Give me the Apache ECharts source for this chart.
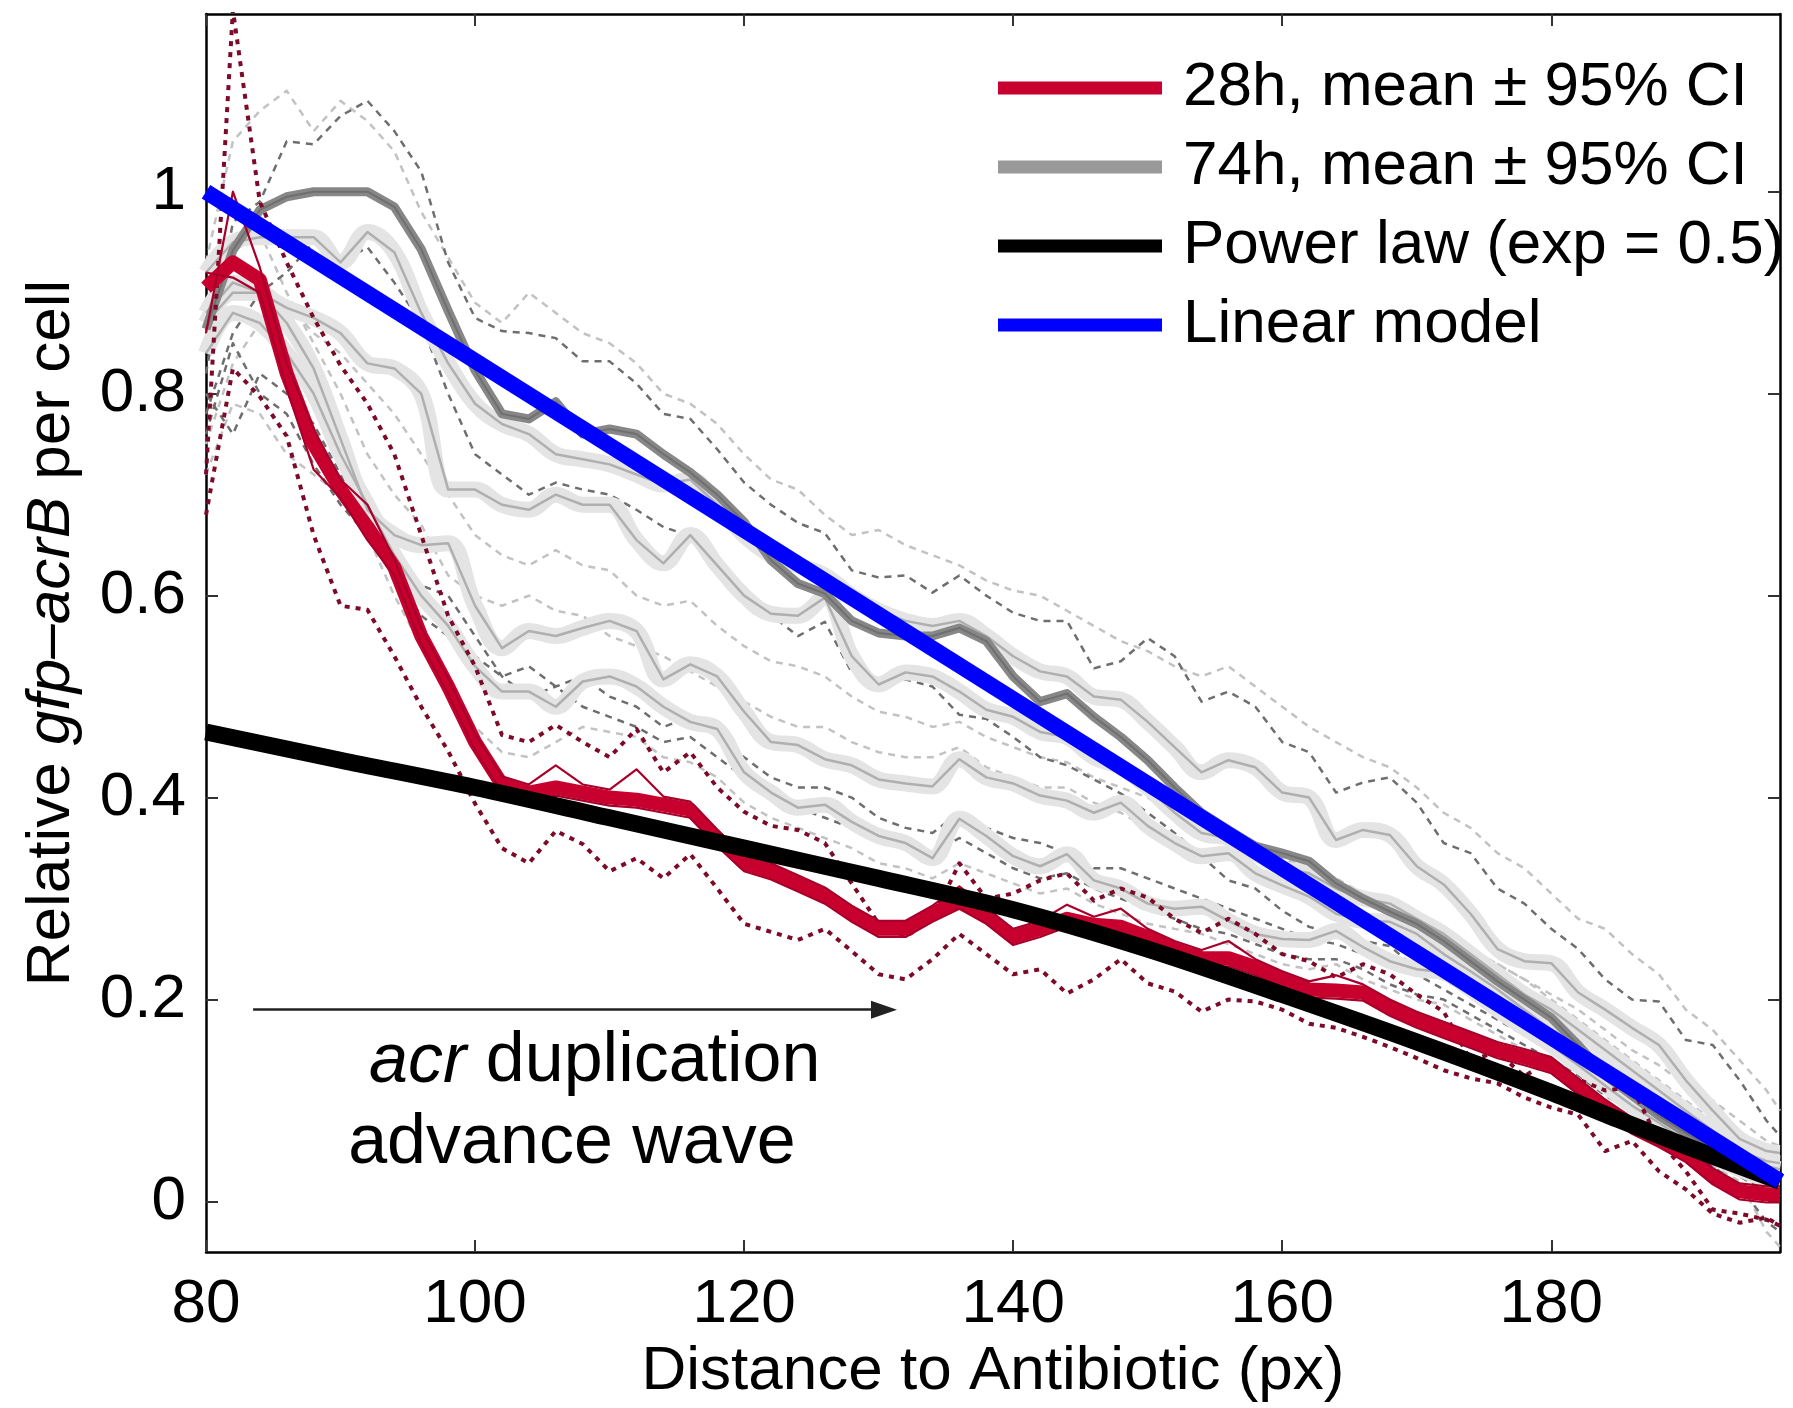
<!DOCTYPE html>
<html>
<head>
<meta charset="utf-8">
<script src="https://cdn.jsdelivr.net/npm/echarts@6/dist/echarts.min.js"></script>
<style>
  html, body { margin: 0; padding: 0; background: #fff; }
  #chart { width: 1793px; height: 1408px; }
</style>
</head>
<body>
<div id="chart"></div>
<script>
// Sampling positions along the distance axis (px)
const xs = [80,82,84,86,88,90,92,94,96,98,100,102,104,106,108,110,112,114,116,118,
            120,122,124,126,128,130,132,134,136,138,140,142,144,146,148,150,152,154,156,158,
            160,162,164,166,168,170,172,174,176,178,180,182,184,186,188,190,192,194,196,197];

// 28h: mean and 95% CI bounds
const red28Mean = [0.905,0.93,0.913,0.82,0.75,0.705,0.668,0.628,0.56,0.51,
  0.455,0.413,0.405,0.41,0.405,0.40,0.398,0.393,0.388,0.36,
  0.335,0.327,0.315,0.303,0.285,0.27,0.27,0.285,0.298,0.283,
  0.262,0.27,0.28,0.274,0.272,0.262,0.25,0.241,0.241,0.232,
  0.22,0.21,0.209,0.207,0.192,0.18,0.17,0.16,0.15,0.143,
  0.135,0.114,0.093,0.075,0.062,0.047,0.025,0.01,0.007,0.007];
const red28Hi = [0.86,1.0,0.925,0.83,0.765,0.715,0.69,0.636,0.568,0.518,
  0.463,0.421,0.413,0.432,0.413,0.408,0.428,0.401,0.396,0.368,
  0.343,0.335,0.323,0.311,0.293,0.278,0.278,0.293,0.312,0.291,
  0.27,0.278,0.294,0.282,0.29,0.27,0.258,0.249,0.258,0.24,
  0.228,0.218,0.224,0.215,0.2,0.188,0.178,0.168,0.158,0.151,
  0.143,0.122,0.101,0.083,0.072,0.055,0.033,0.018,0.015,0.015];
const red28Lo = [0.92,0.915,0.9,0.805,0.725,0.697,0.655,0.62,0.552,0.502,
  0.447,0.405,0.397,0.402,0.397,0.392,0.39,0.385,0.38,0.352,
  0.327,0.319,0.307,0.295,0.277,0.262,0.262,0.277,0.29,0.275,
  0.254,0.262,0.272,0.266,0.264,0.254,0.242,0.233,0.233,0.224,
  0.212,0.202,0.201,0.199,0.184,0.172,0.162,0.152,0.142,0.135,
  0.127,0.106,0.085,0.067,0.054,0.039,0.017,0.002,-0.001,-0.001];
// 28h: individual replicates
const red28RepA = [0.72,1.18,0.99,0.93,0.875,0.828,0.79,0.74,0.66,0.58,
  0.53,0.462,0.455,0.472,0.455,0.44,0.468,0.425,0.445,0.41,
  0.386,0.372,0.368,0.355,0.315,0.275,0.262,0.28,0.335,0.30,
  0.305,0.318,0.325,0.298,0.31,0.301,0.28,0.266,0.28,0.265,
  0.245,0.238,0.222,0.235,0.225,0.205,0.188,0.14,0.148,0.124,
  0.141,0.121,0.11,0.113,0.06,0.03,-0.008,-0.012,-0.018,-0.024];
const red28RepB = [0.68,0.825,0.797,0.758,0.66,0.59,0.586,0.54,0.49,0.446,
  0.394,0.35,0.335,0.367,0.354,0.327,0.34,0.32,0.344,0.31,
  0.275,0.267,0.259,0.27,0.248,0.225,0.22,0.24,0.265,0.245,
  0.225,0.23,0.206,0.22,0.24,0.216,0.208,0.188,0.2,0.198,
  0.19,0.176,0.172,0.163,0.153,0.142,0.13,0.122,0.117,0.103,
  0.093,0.086,0.05,0.06,0.03,0.012,-0.012,-0.021,-0.016,-0.024];

// 74h: highlighted mean
const gray74Mean = [0.864,0.942,0.982,0.995,1.0,1.0,1.0,0.985,0.943,0.882,
  0.823,0.78,0.775,0.792,0.76,0.765,0.76,0.74,0.722,0.7,
  0.673,0.635,0.612,0.602,0.575,0.563,0.56,0.56,0.568,0.555,
  0.52,0.495,0.503,0.48,0.46,0.437,0.41,0.385,0.368,0.352,
  0.345,0.337,0.315,0.3,0.287,0.275,0.258,0.238,0.218,0.2,
  0.182,0.155,0.125,0.105,0.085,0.068,0.052,0.036,0.025,0.022];
// 74h: other position means
const grayMeanA = [0.92,0.95,0.955,0.955,0.955,0.93,0.96,0.94,0.88,0.83,
  0.79,0.77,0.76,0.74,0.735,0.73,0.72,0.71,0.715,0.69,
  0.66,0.64,0.63,0.62,0.6,0.585,0.575,0.57,0.575,0.56,
  0.54,0.525,0.52,0.5,0.497,0.475,0.45,0.425,0.437,0.43,
  0.405,0.4,0.358,0.368,0.363,0.332,0.314,0.285,0.25,0.238,
  0.236,0.207,0.19,0.172,0.155,0.12,0.09,0.062,0.05,0.048];
const grayMeanB = [0.88,0.91,0.9,0.885,0.875,0.86,0.83,0.825,0.8,0.705,
  0.705,0.69,0.685,0.7,0.69,0.69,0.655,0.632,0.66,0.63,
  0.6,0.582,0.58,0.598,0.54,0.512,0.524,0.52,0.505,0.487,
  0.48,0.465,0.46,0.44,0.43,0.41,0.385,0.365,0.36,0.345,
  0.33,0.325,0.31,0.3,0.295,0.28,0.265,0.245,0.225,0.205,
  0.19,0.17,0.15,0.13,0.11,0.09,0.07,0.05,0.04,0.038];
const grayMeanC = [0.87,0.9,0.9,0.87,0.825,0.755,0.685,0.66,0.65,0.652,
  0.59,0.548,0.565,0.56,0.568,0.575,0.565,0.517,0.532,0.52,
  0.485,0.455,0.452,0.438,0.432,0.418,0.414,0.411,0.438,0.42,
  0.414,0.402,0.397,0.385,0.395,0.372,0.355,0.342,0.345,0.325,
  0.313,0.302,0.285,0.278,0.277,0.265,0.245,0.228,0.21,0.19,
  0.17,0.15,0.13,0.11,0.09,0.075,0.06,0.045,0.035,0.032];
const grayMeanD = [0.84,0.88,0.87,0.84,0.80,0.74,0.69,0.64,0.60,0.57,
  0.53,0.505,0.505,0.49,0.515,0.52,0.51,0.49,0.475,0.468,
  0.425,0.405,0.39,0.393,0.376,0.362,0.355,0.34,0.379,0.362,
  0.342,0.332,0.344,0.318,0.31,0.295,0.29,0.292,0.278,0.265,
  0.26,0.259,0.268,0.252,0.238,0.23,0.227,0.21,0.19,0.172,
  0.155,0.135,0.115,0.095,0.078,0.06,0.045,0.032,0.022,0.02];

// 74h: individual replicates (dark and light dashes)
const grayRepDark1 = [0.82,0.97,0.99,1.05,1.047,1.075,1.09,1.06,1.02,0.93,
  0.875,0.862,0.86,0.855,0.832,0.832,0.81,0.78,0.775,0.745,
  0.712,0.69,0.672,0.662,0.625,0.618,0.62,0.603,0.62,0.6,
  0.583,0.575,0.575,0.528,0.535,0.558,0.54,0.495,0.505,0.49,
  0.455,0.445,0.405,0.415,0.42,0.395,0.355,0.345,0.31,0.295,
  0.27,0.25,0.22,0.2,0.198,0.16,0.155,0.12,0.08,0.065];
const grayRepDark2 = [0.78,0.86,0.9,0.92,0.95,0.93,0.945,0.91,0.87,0.8,
  0.74,0.72,0.7,0.712,0.705,0.70,0.685,0.668,0.659,0.634,
  0.609,0.581,0.56,0.574,0.524,0.513,0.517,0.51,0.482,0.478,
  0.46,0.44,0.432,0.418,0.404,0.385,0.365,0.342,0.318,0.31,
  0.288,0.272,0.265,0.258,0.253,0.23,0.22,0.205,0.19,0.175,
  0.16,0.14,0.12,0.1,0.08,0.06,0.04,0.025,0.01,0.005];
const grayRepDark3 = [0.8,0.76,0.82,0.8,0.77,0.72,0.66,0.63,0.61,0.6,
  0.56,0.52,0.5,0.51,0.52,0.5,0.49,0.47,0.48,0.46,
  0.44,0.42,0.41,0.41,0.4,0.38,0.37,0.365,0.385,0.37,
  0.36,0.355,0.345,0.33,0.33,0.32,0.31,0.3,0.29,0.28,
  0.27,0.26,0.255,0.245,0.24,0.225,0.21,0.195,0.18,0.165,
  0.148,0.13,0.11,0.09,0.07,0.05,0.035,0.015,-0.02,-0.03];
const grayRepDark4 = [0.76,0.85,0.8,0.78,0.73,0.69,0.66,0.62,0.58,0.56,
  0.54,0.52,0.53,0.51,0.49,0.48,0.47,0.455,0.46,0.44,
  0.42,0.41,0.39,0.38,0.37,0.355,0.35,0.345,0.36,0.345,
  0.33,0.32,0.325,0.31,0.3,0.29,0.28,0.27,0.265,0.255,
  0.245,0.24,0.24,0.23,0.215,0.205,0.2,0.185,0.17,0.155,
  0.14,0.125,0.105,0.09,0.07,0.055,0.04,0.025,0.01,0.005];
const grayRepLight1 = [0.93,1.05,1.08,1.1,1.06,1.09,1.07,1.04,0.98,0.935,
  0.89,0.87,0.9,0.88,0.86,0.85,0.83,0.8,0.79,0.77,
  0.74,0.715,0.705,0.68,0.66,0.665,0.65,0.64,0.63,0.615,
  0.605,0.6,0.585,0.57,0.555,0.545,0.53,0.52,0.53,0.51,
  0.49,0.47,0.455,0.44,0.43,0.41,0.385,0.37,0.345,0.33,
  0.305,0.28,0.27,0.245,0.225,0.19,0.17,0.14,0.11,0.09];
const grayRepLight2 = [0.75,0.83,0.87,0.89,0.86,0.84,0.81,0.78,0.74,0.70,
  0.66,0.64,0.63,0.645,0.63,0.625,0.6,0.59,0.595,0.57,
  0.55,0.535,0.53,0.52,0.5,0.485,0.48,0.47,0.475,0.46,
  0.45,0.44,0.435,0.42,0.41,0.4,0.385,0.37,0.365,0.35,
  0.34,0.33,0.32,0.305,0.3,0.285,0.27,0.25,0.235,0.22,
  0.2,0.18,0.16,0.14,0.12,0.1,0.08,0.06,0.045,0.04];
const grayRepLight3 = [0.72,0.79,0.78,0.74,0.72,0.7,0.66,0.6,0.55,0.5,
  0.47,0.445,0.44,0.455,0.47,0.465,0.46,0.44,0.435,0.42,
  0.395,0.38,0.37,0.36,0.35,0.335,0.33,0.32,0.335,0.325,
  0.315,0.305,0.31,0.295,0.285,0.275,0.27,0.265,0.255,0.245,
  0.235,0.23,0.235,0.22,0.21,0.2,0.195,0.18,0.165,0.15,
  0.135,0.12,0.1,0.082,0.065,0.05,0.035,0.02,-0.03,-0.045];
const grayRepLight4 = [0.86,0.94,0.96,0.9,0.85,0.8,0.74,0.7,0.67,0.62,
  0.6,0.59,0.6,0.585,0.58,0.56,0.55,0.54,0.525,0.51,
  0.495,0.48,0.47,0.47,0.455,0.445,0.44,0.44,0.45,0.43,
  0.42,0.41,0.41,0.395,0.385,0.37,0.355,0.345,0.34,0.33,
  0.32,0.31,0.3,0.295,0.29,0.28,0.265,0.25,0.235,0.22,
  0.205,0.19,0.17,0.15,0.135,0.115,0.1,0.08,0.06,0.055];

// Model fits
const powerX = [80,90,100,110,120,130,140,150,160,170,180,185,190,197];
const powerY = [0.465,0.437,0.41,0.38,0.35,0.32,0.289,0.25,0.205,0.158,0.108,0.081,0.055,0.02];
const linearX = [80,197];
const linearY = [1.0,0.02];

// Axis ticks
const xTicks = [80,100,120,140,160,180];
const yTicks = [0,0.2,0.4,0.6,0.8,1];

// Annotation: advance-wave arrow and its caption (data coordinates)
const arrowFrom = [83.5, 0.19];
const arrowTo = [130.4, 0.19];
const captionLine1 = [108.9, 0.138];
const captionLine2 = [107.2, 0.057];

const FONT = "'Liberation Sans', Arial, Helvetica, sans-serif";
const NAME_28 = '28h, mean \u00B1 95% CI';
const NAME_74 = '74h, mean \u00B1 95% CI';
const NAME_POW = 'Power law (exp = 0.5)';
const NAME_LIN = 'Linear model';
const RED = '#c8002e';

function pts(ys) { return xs.map((x, i) => [x, ys[i]]); }
function zipXY(a, b) { return a.map((x, i) => [x, b[i]]); }

const series = [];
function line(data, color, width, z, opts) {
  opts = opts || {};
  series.push(Object.assign({
    type: 'line',
    data: data,
    symbol: 'none',
    silent: true,
    animation: false,
    z: z,
    color: color,
    lineStyle: { color: color, width: width, type: opts.dash || 'solid', cap: 'butt', join: 'round' },
    smooth: opts.smooth || false
  }, opts.name ? { name: opts.name } : {}));
}

// dashed replicates
[grayRepLight1, grayRepLight2, grayRepLight3, grayRepLight4].forEach(r =>
  line(pts(r), '#c2c2c2', 2.5, 1, { dash: [7, 6] }));
[grayRepDark1, grayRepDark2, grayRepDark3, grayRepDark4].forEach(r =>
  line(pts(r), '#6e6e6e', 2.5, 2, { dash: [7, 6] }));

// shaded CI bands around the 74h position means, then the means
[grayMeanA, grayMeanB, grayMeanC, grayMeanD].forEach(m =>
  line(pts(m), '#e4e4e4', 16, 3, { smooth: 0.4 }));
[grayMeanA, grayMeanB, grayMeanC, grayMeanD].forEach(m =>
  line(pts(m), '#afafaf', 2.5, 4));

// highlighted 74h mean
line(pts(gray74Mean), '#878787', 9, 5, { name: NAME_74 });
line(pts(gray74Mean), '#6f6f6f', 2, 5);

// 28h replicates (dotted)
line(pts(red28RepA), '#7d0a28', 4, 6, { dash: [5, 6] });
line(pts(red28RepB), '#7d0a28', 4, 6, { dash: [5, 6] });

// 28h mean band with its CI bounds
line(pts(red28Mean), RED, 14, 7, { name: NAME_28 });
line(pts(red28Hi), '#a8002a', 2.2, 8);
line(pts(red28Lo), '#a8002a', 2.2, 8);

// fits
line(zipXY(powerX, powerY), '#000000', 17, 9, { name: NAME_POW, smooth: 0.3 });
line(zipXY(linearX, linearY), '#0000ff', 16, 10, { name: NAME_LIN });

// arrow
series.push({
  type: 'line', data: [], symbol: 'none', silent: true, animation: false, z: 11,
  markLine: {
    silent: true, animation: false,
    symbol: ['none', 'triangle'], symbolSize: [18, 26],
    lineStyle: { color: '#222', width: 2.5, type: 'solid' },
    label: { show: false },
    data: [[{ coord: arrowFrom }, { coord: arrowTo }]]
  }
});

// caption
series.push({
  type: 'scatter', silent: true, animation: false, z: 11, symbolSize: 1,
  itemStyle: { color: 'rgba(0,0,0,0)', opacity: 1 },
  data: [
    { value: captionLine1, label: { formatter: '{i|acr} duplication' } },
    { value: captionLine2, label: { formatter: 'advance wave' } }
  ],
  label: {
    show: true, position: 'inside', color: '#000', opacity: 1, fontSize: 70, fontFamily: FONT,
    rich: { i: { fontStyle: 'italic', fontSize: 70, fontFamily: FONT, color: '#000' } }
  },
  emphasis: { disabled: true }
});

const axisLineStyle = { color: '#000', width: 2.5 };
const tickStyle = { color: '#333', width: 2 };

const option = {
  backgroundColor: '#fff',
  animation: false,
  grid: { left: 206, right: 13, top: 14, bottom: 156, containLabel: false },
  legend: {
    orient: 'vertical', left: 993, top: 52, itemGap: 17,
    itemWidth: 164, itemHeight: 13, selectedMode: false,
    textStyle: { fontSize: 62, fontFamily: FONT, color: '#000', padding: [0, 0, 0, 16] },
    data: [
      { name: NAME_28, icon: 'rect', itemStyle: { color: RED } },
      { name: NAME_74, icon: 'rect', itemStyle: { color: '#999999' } },
      { name: NAME_POW, icon: 'rect', itemStyle: { color: '#000000' } },
      { name: NAME_LIN, icon: 'rect', itemStyle: { color: '#0000ff' } }
    ]
  },
  xAxis: [{
    type: 'value', min: 80, max: 197, position: 'bottom',
    axisLine: { show: true, onZero: false, lineStyle: axisLineStyle },
    axisTick: { show: true, inside: true, length: 12, customValues: xTicks, lineStyle: tickStyle },
    axisLabel: { customValues: xTicks, fontSize: 62, fontFamily: FONT, color: '#000', margin: 22 },
    splitLine: { show: false },
    name: 'Distance to Antibiotic (px)', nameLocation: 'middle', nameGap: 86,
    nameTextStyle: { fontSize: 62, fontFamily: FONT, color: '#000' }
  }, {
    type: 'value', min: 80, max: 197, position: 'top',
    axisLine: { show: true, onZero: false, lineStyle: axisLineStyle },
    axisTick: { show: true, inside: true, length: 12, customValues: xTicks, lineStyle: tickStyle },
    axisLabel: { show: false }, splitLine: { show: false }
  }],
  yAxis: [{
    type: 'value', min: -0.05, max: 1.176, position: 'left',
    axisLine: { show: true, onZero: false, lineStyle: axisLineStyle },
    axisTick: { show: true, inside: true, length: 12, customValues: yTicks, lineStyle: tickStyle },
    axisLabel: { customValues: yTicks, fontSize: 62, fontFamily: FONT, color: '#000', margin: 20 },
    splitLine: { show: false },
    name: 'Relative {i|gfp\u2013acrB} per cell', nameLocation: 'middle', nameGap: 123, nameRotate: 90,
    nameTextStyle: {
      fontSize: 62, fontFamily: FONT, color: '#000',
      rich: { i: { fontStyle: 'italic', fontSize: 62, fontFamily: FONT, color: '#000' } }
    }
  }, {
    type: 'value', min: -0.05, max: 1.176, position: 'right',
    axisLine: { show: true, onZero: false, lineStyle: axisLineStyle },
    axisTick: { show: true, inside: true, length: 12, customValues: yTicks, lineStyle: tickStyle },
    axisLabel: { show: false }, splitLine: { show: false }
  }],
  series: series
};

const chart = echarts.init(document.getElementById('chart'), null, { renderer: 'canvas' });
chart.setOption(option);
</script>
</body>
</html>
